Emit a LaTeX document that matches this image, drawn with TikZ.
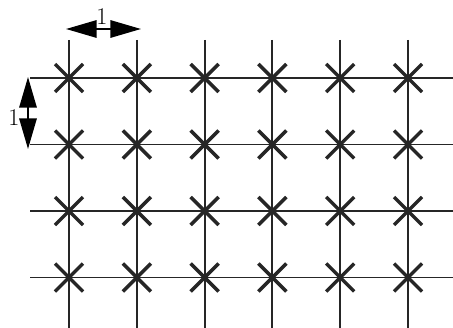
\documentclass[tikz,border=0pt]{standalone}
\usetikzlibrary{arrows.meta}
\begin{document}
\begin{tikzpicture}[x=0.75pt,y=-0.75pt,
  gridline/.style={line width=1.4pt,black!85},
  crossmark/.style={line width=2.6pt,black!85},
  dimarrow/.style={line width=1.6pt,{Triangle[length=23pt,width=13pt]}-{Triangle[length=23pt,width=13pt]}},
  dimlabel/.style={font=\fontsize{18}{18}\selectfont,inner sep=0pt}]
\useasboundingbox (0,0) rectangle (453,328);
\def\xs{69,136.8,204.6,272.4,340.2,408}
\def\ys{78,144.5,211,277.5}
% vertical lines
\foreach \x [count=\i] in \xs {
  \coordinate (vt\i) at (\x,40);
  \coordinate (vb\i) at (\x,328);
  \draw[gridline] (vt\i) -- (vb\i);
}
% horizontal lines
\foreach \y [count=\j] in \ys {
  \coordinate (hl\j) at (30,\y);
  \coordinate (hr\j) at (453,\y);
  \draw[gridline] (hl\j) -- (hr\j);
}
% crosses
\foreach \x [count=\i] in \xs {
  \foreach \y [count=\j] in \ys {
    \coordinate (p\i\j) at (\x,\y);
    \draw[crossmark] ([shift={(-14,-14)}]p\i\j) -- ([shift={(14,14)}]p\i\j);
    \draw[crossmark] ([shift={(-14,14)}]p\i\j) -- ([shift={(14,-14)}]p\i\j);
  }
}
% dimension arrows
\coordinate (ha) at (66,29);
\coordinate (hb) at (141,29);
\draw[dimarrow] (ha) -- (hb);
\node[dimlabel] (lh) at (102,17) {1};
\coordinate (va) at (28,77);
\coordinate (vb) at (28,149);
\draw[dimarrow] (va) -- (vb);
\node[dimlabel] (lv) at (14,118) {1};
\end{tikzpicture}
\end{document}
